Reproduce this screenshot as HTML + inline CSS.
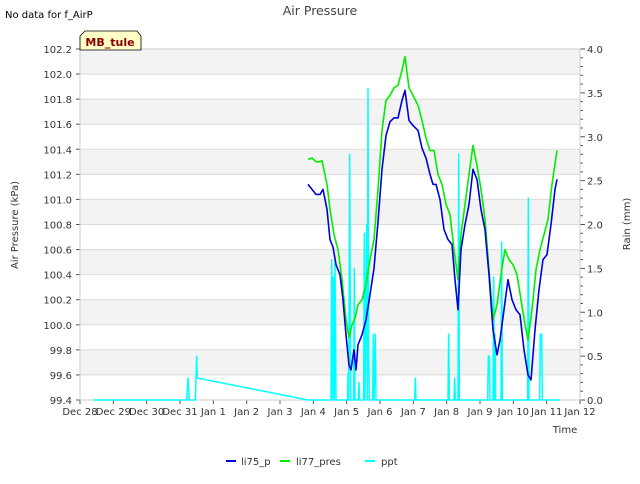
<!DOCTYPE html>
<html><head><meta charset="utf-8"><style>
body{margin:0;background:#fff;font-family:"DejaVu Sans","Liberation Sans",sans-serif}
svg text{font-family:"DejaVu Sans","Liberation Sans",sans-serif}
</style></head><body>
<svg id="c" width="640" height="480" xmlns="http://www.w3.org/2000/svg">
<text x="320" y="15" text-anchor="middle" font-size="12.5" fill="#444">Air Pressure</text>
<text x="5" y="18" font-size="10" fill="#000">No data for f_AirP</text>
<g id="plot"></g>
<g>
<path d="M80,50 L80,36 L85,31 L137,31 L141,36 L141,50 Z" fill="#ffffc8" stroke="#000" stroke-width="0.8"/>
<text x="110" y="46" text-anchor="middle" font-size="11" font-weight="bold" fill="#8b0000">MB_tule</text>
</g>
<text transform="translate(18,225) rotate(-90)" text-anchor="middle" font-size="10" fill="#333">Air Pressure (kPa)</text>
<text transform="translate(630,224) rotate(-90)" text-anchor="middle" font-size="10" fill="#333">Rain (mm)</text>
<text x="565" y="433" text-anchor="middle" font-size="10" fill="#333">Time</text>
<g font-size="10" fill="#333">
<g><line x1="226" y1="461" x2="236" y2="461" stroke="#0000dd" stroke-width="2"/><text x="241" y="465">li75_p</text></g>
<g><line x1="280" y1="461" x2="290" y2="461" stroke="#00ee00" stroke-width="2"/><text x="296" y="465">li77_pres</text></g>
<g><line x1="365" y1="461" x2="375" y2="461" stroke="#00ffff" stroke-width="2"/><text x="381" y="465">ppt</text></g>
</g>
</svg>
<script>
const xTickLabels=["Dec 28","Dec 29","Dec 30","Dec 31","Jan 1","Jan 2","Jan 3","Jan 4","Jan 5","Jan 6","Jan 7","Jan 8","Jan 9","Jan 10","Jan 11","Jan 12"];
const yTickLabels=["99.4","99.6","99.8","100.0","100.2","100.4","100.6","100.8","101.0","101.2","101.4","101.6","101.8","102.0","102.2"];
const y2TickLabels=["0.0","0.5","1.0","1.5","2.0","2.5","3.0","3.5","4.0"];
const bTime=[6.84,6.96,7.08,7.20,7.29,7.41,7.50,7.59,7.68,7.80,7.89,7.98,8.07,8.13,8.22,8.28,8.34,8.46,8.58,8.70,8.82,8.94,9.06,9.18,9.30,9.42,9.54,9.66,9.75,9.87,9.99,10.14,10.26,10.38,10.50,10.59,10.68,10.80,10.92,11.04,11.16,11.25,11.34,11.43,11.55,11.67,11.79,11.91,12.03,12.15,12.27,12.39,12.51,12.60,12.72,12.84,12.96,13.08,13.20,13.32,13.44,13.53,13.65,13.77,13.89,14.01,14.13,14.25,14.31];
const bVal=[101.12,101.08,101.04,101.04,101.08,100.92,100.68,100.62,100.48,100.40,100.20,99.92,99.68,99.64,99.80,99.64,99.84,99.92,100.04,100.24,100.45,100.82,101.24,101.51,101.62,101.65,101.65,101.79,101.87,101.63,101.59,101.55,101.41,101.33,101.20,101.12,101.12,101.00,100.76,100.68,100.64,100.36,100.12,100.60,100.80,100.96,101.24,101.16,100.92,100.76,100.40,99.96,99.76,99.88,100.12,100.36,100.20,100.12,100.08,99.80,99.60,99.56,99.96,100.28,100.52,100.56,100.80,101.08,101.16];
const gTime=[6.84,6.96,7.08,7.20,7.26,7.41,7.50,7.62,7.74,7.86,7.98,8.07,8.16,8.25,8.34,8.46,8.58,8.70,8.82,8.94,9.06,9.18,9.30,9.42,9.54,9.66,9.75,9.87,9.99,10.14,10.26,10.38,10.50,10.62,10.74,10.86,10.98,11.10,11.22,11.34,11.43,11.55,11.67,11.79,11.91,12.03,12.15,12.27,12.39,12.51,12.63,12.75,12.87,12.99,13.11,13.23,13.35,13.44,13.56,13.68,13.80,13.92,14.04,14.16,14.31];
const gVal=[101.32,101.33,101.30,101.30,101.31,101.12,100.92,100.72,100.60,100.36,100.04,99.90,100.00,100.05,100.16,100.20,100.32,100.52,100.68,101.08,101.55,101.79,101.83,101.89,101.91,102.03,102.14,101.89,101.83,101.75,101.63,101.49,101.39,101.39,101.20,101.12,100.96,100.88,100.60,100.36,100.72,100.96,101.20,101.43,101.27,101.08,100.84,100.44,100.04,100.16,100.40,100.60,100.52,100.48,100.40,100.20,100.00,99.88,100.12,100.44,100.60,100.72,100.84,101.12,101.39];
const pTime=[0.4,3.2,3.24,3.28,3.46,3.50,3.52,6.84,7.53,7.55,7.58,7.60,7.63,7.65,7.68,8.03,8.04,8.06,8.09,8.12,8.21,8.23,8.25,8.35,8.37,8.39,8.51,8.53,8.55,8.60,8.62,8.64,8.66,8.68,8.78,8.80,8.82,8.86,8.88,10.04,10.06,10.08,11.04,11.06,11.08,11.22,11.24,11.26,11.34,11.36,11.38,12.23,12.25,12.28,12.30,12.39,12.41,12.43,12.45,12.47,12.63,12.65,12.67,13.43,13.45,13.47,13.79,13.81,13.85,13.87,14.4];
const pVal=[0,0,0.25,0,0,0.5,0.25,0,0,1.6,0,1.4,0,1.6,0,0,0.3,0,2.8,0,0,1.5,0,0,0.2,0,0,1.9,0,2.0,0,3.55,0.5,0,0,0.75,0,0.75,0,0,0.25,0,0,0.75,0,0,0.25,0,0,2.8,0,0,0.5,0.5,0,0,1.4,0,0.75,0,0,1.8,0,0,2.3,0,0,0.75,0.75,0,0];

const L=80,R=580,T=49,B=400;
const xs=d=>L+d*(R-L)/15;
const ys=v=>B-(v-99.4)*(B-T)/2.8;
const y2=v=>B-v*(B-T)/4;
const NS="http://www.w3.org/2000/svg";
const g=document.getElementById('plot');
function mk(t,a,p){const e=document.createElementNS(NS,t);for(const k in a)e.setAttribute(k,a[k]);(p||g).appendChild(e);return e;}
for(let i=0;i<14;i++){
  const v=99.4+i*0.2;
  if(i%2==1){const r=mk('rect',{x:L,y:ys(v+0.2),width:R-L,height:ys(v)-ys(v+0.2),fill:'#f3f3f3'});
  
  }
}
yTickLabels.forEach((s,i)=>{const v=99.4+i*0.2;const y=ys(v);
  mk('line',{x1:L,x2:R,y1:y,y2:y,stroke:'#dcdcdc','stroke-width':1});
  mk('line',{x1:L-4,x2:L,y1:y,y2:y,stroke:'#555'});
  const t=mk('text',{x:L-8,y:y+4,'text-anchor':'end','font-size':10,fill:'#333'});t.textContent=s;
  
  
});
y2TickLabels.forEach((s,i)=>{const y=y2(i*0.5);
  mk('line',{x1:R,x2:R+5,y1:y,y2:y,stroke:'#555'});
  const t=mk('text',{x:R+7,y:y+4,'font-size':10,fill:'#333'});t.textContent=s;
  
  
});
for(let i=0;i<=40;i++){if(i%5)mk('line',{x1:R,x2:R+3,y1:y2(i*0.1),y2:y2(i*0.1),stroke:'#555'});}
xTickLabels.forEach((s,i)=>{const x=xs(i);
  mk('line',{x1:x,x2:x,y1:B,y2:B+4,stroke:'#555'});
  const t=mk('text',{x:x,y:B+15,'text-anchor':'middle','font-size':10,fill:'#333'});t.textContent=s;
  
  
});
mk('rect',{x:L,y:T,width:R-L,height:B-T,fill:'none',stroke:'#ccc'});
function line(tt,vv,sc,col,w,name){
  const p=mk('polyline',{points:tt.map((t,i)=>xs(t)+','+sc(vv[i])).join(' '),fill:'none',stroke:col,'stroke-width':w,'stroke-linejoin':'round'});
  
  
}
line(pTime,pVal,y2,'#00ffff',1.5,'ppt-line');
line(gTime,gVal,ys,'#00ee00',1.6,'li77-pres-line');
line(bTime,bVal,ys,'#0000dd',1.6,'li75-p-line');
</script>
</body></html>
